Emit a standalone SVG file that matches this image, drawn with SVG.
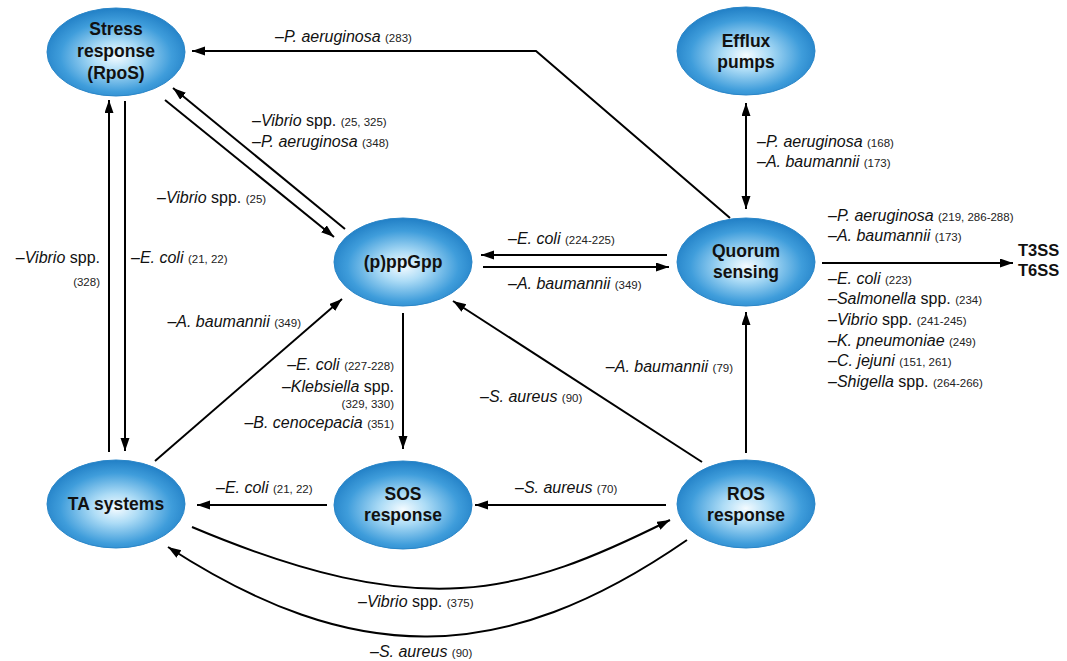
<svg xmlns="http://www.w3.org/2000/svg" width="1067" height="661" viewBox="0 0 1067 661">
<style>
.t{font-family:"Liberation Sans",Arial,sans-serif;font-size:16px;fill:#111}
.i{font-style:italic}
.r{font-size:11.5px;fill:#222}
.n{font-family:"Liberation Sans",Arial,sans-serif;font-size:17.5px;font-weight:bold;fill:#111;text-anchor:middle}
.e{text-anchor:end}
.c{fill:none;stroke:#000;stroke-width:2}
.a{marker-end:url(#ah)}
.node ellipse{fill:url(#g);stroke:#2a86c8;stroke-width:1}
</style>
<defs>
<radialGradient id="g" cx="50%" cy="55%" r="56%">
<stop offset="0" stop-color="#f4fbff"/>
<stop offset="0.3" stop-color="#addcf6"/>
<stop offset="0.72" stop-color="#3f9ddb"/>
<stop offset="1" stop-color="#1f7dc4"/>
</radialGradient>
<marker id="ah" markerUnits="userSpaceOnUse" markerWidth="14" markerHeight="10" refX="13" refY="4.5" orient="auto-start-reverse">
<path d="M0,0 L13,4.5 L0,9 z" fill="#000"/>
</marker>
</defs>
<rect width="1067" height="661" fill="#fff"/>
<g id="connectors">
<polyline class="c a" points="730,218 536,51 192,51"/>
<line class="c a" x1="345" y1="229" x2="173" y2="88"/>
<line class="c a" x1="165" y1="100" x2="334" y2="237"/>
<line class="c a" x1="109" y1="452" x2="109" y2="100"/>
<line class="c a" x1="125" y1="101" x2="125" y2="451"/>
<line class="c a" x1="155" y1="461" x2="342" y2="299"/>
<line class="c a" x1="667" y1="255" x2="481" y2="255"/>
<line class="c a" x1="483" y1="267" x2="669" y2="267"/>
<line class="c a" x1="403" y1="313" x2="403" y2="449"/>
<line class="c a" x1="702" y1="462" x2="453" y2="301"/>
<line class="c a" x1="746" y1="453" x2="746" y2="312"/>
<line class="c a" x1="746" y1="103" x2="746" y2="209" marker-start="url(#ah)"/>
<line class="c a" x1="822" y1="263" x2="1013" y2="263"/>
<line class="c a" x1="327" y1="505" x2="197" y2="505"/>
<line class="c a" x1="666" y1="505" x2="475" y2="505"/>
<path class="c a" d="M192,527 C422,624 520,595 670,520"/>
<path class="c a" d="M687,540 C502,668 353,667 168,547"/>
</g>
<g id="labels">
<text class="t" x="275" y="42">–<tspan class="i">P. aeruginosa</tspan> <tspan class="r">(283)</tspan></text>
<text class="t" x="252" y="126">–<tspan class="i">Vibrio</tspan> spp. <tspan class="r">(25, 325)</tspan></text>
<text class="t" x="252" y="147">–<tspan class="i">P. aeruginosa</tspan> <tspan class="r">(348)</tspan></text>
<text class="t" x="157" y="203">–<tspan class="i">Vibrio</tspan> spp. <tspan class="r">(25)</tspan></text>
<text class="t e" x="100" y="263">–<tspan class="i">Vibrio</tspan> spp.</text>
<text class="t e r" x="100" y="286">(328)</text>
<text class="t" x="131" y="263">–<tspan class="i">E. coli</tspan> <tspan class="r">(21, 22)</tspan></text>
<text class="t e" x="301" y="327">–<tspan class="i">A. baumannii</tspan> <tspan class="r">(349)</tspan></text>
<text class="t" x="508" y="244">–<tspan class="i">E. coli</tspan> <tspan class="r">(224-225)</tspan></text>
<text class="t" x="508" y="289">–<tspan class="i">A. baumannii</tspan> <tspan class="r">(349)</tspan></text>
<text class="t e" x="394" y="370">–<tspan class="i">E. coli</tspan> <tspan class="r">(227-228)</tspan></text>
<text class="t e" x="394" y="392">–<tspan class="i">Klebsiella</tspan> spp.</text>
<text class="t e r" x="394" y="408">(329, 330)</text>
<text class="t e" x="394" y="428">–<tspan class="i">B. cenocepacia</tspan> <tspan class="r">(351)</tspan></text>
<text class="t" x="480" y="402">–<tspan class="i">S. aureus</tspan> <tspan class="r">(90)</tspan></text>
<text class="t e" x="733" y="372">–<tspan class="i">A. baumannii</tspan> <tspan class="r">(79)</tspan></text>
<text class="t" x="757" y="147">–<tspan class="i">P. aeruginosa</tspan> <tspan class="r">(168)</tspan></text>
<text class="t" x="757" y="167">–<tspan class="i">A. baumannii</tspan> <tspan class="r">(173)</tspan></text>
<text class="t" x="828" y="221">–<tspan class="i">P. aeruginosa</tspan> <tspan class="r">(219, 286-288)</tspan></text>
<text class="t" x="828" y="241">–<tspan class="i">A. baumannii</tspan> <tspan class="r">(173)</tspan></text>
<text class="t" x="828" y="284">–<tspan class="i">E. coli</tspan> <tspan class="r">(223)</tspan></text>
<text class="t" x="828" y="304">–<tspan class="i">Salmonella</tspan> spp. <tspan class="r">(234)</tspan></text>
<text class="t" x="828" y="325">–<tspan class="i">Vibrio</tspan> spp. <tspan class="r">(241-245)</tspan></text>
<text class="t" x="828" y="346">–<tspan class="i">K. pneumoniae</tspan> <tspan class="r">(249)</tspan></text>
<text class="t" x="828" y="366">–<tspan class="i">C. jejuni</tspan> <tspan class="r">(151, 261)</tspan></text>
<text class="t" x="828" y="387">–<tspan class="i">Shigella</tspan> spp. <tspan class="r">(264-266)</tspan></text>
<text class="n" x="1018" y="256" style="text-anchor:start;font-size:16.5px">T3SS</text>
<text class="n" x="1018" y="276" style="text-anchor:start;font-size:16.5px">T6SS</text>
<text class="t" x="216" y="493">–<tspan class="i">E. coli</tspan> <tspan class="r">(21, 22)</tspan></text>
<text class="t" x="515" y="493">–<tspan class="i">S. aureus</tspan> <tspan class="r">(70)</tspan></text>
<text class="t" x="358" y="607">–<tspan class="i">Vibrio</tspan> spp. <tspan class="r">(375)</tspan></text>
<text class="t" x="370" y="657">–<tspan class="i">S. aureus</tspan> <tspan class="r">(90)</tspan></text>
</g>
<g id="stress" class="node"><ellipse cx="116" cy="52" rx="69" ry="44"/><text class="n" x="116" y="35">Stress</text><text class="n" x="116" y="57">response</text><text class="n" x="116" y="79">(RpoS)</text></g>
<g id="efflux" class="node"><ellipse cx="746" cy="51" rx="69" ry="44"/><text class="n" x="746" y="47">Efflux</text><text class="n" x="746" y="68">pumps</text></g>
<g id="ppgpp" class="node"><ellipse cx="403" cy="262" rx="69" ry="44"/><text class="n" x="403" y="268">(p)ppGpp</text></g>
<g id="quorum" class="node"><ellipse cx="746" cy="262" rx="69" ry="44"/><text class="n" x="746" y="257">Quorum</text><text class="n" x="746" y="278">sensing</text></g>
<g id="ta" class="node"><ellipse cx="116" cy="504" rx="69" ry="44"/><text class="n" x="116" y="510">TA systems</text></g>
<g id="sos" class="node"><ellipse cx="403" cy="505" rx="69" ry="44"/><text class="n" x="403" y="500">SOS</text><text class="n" x="403" y="521">response</text></g>
<g id="ros" class="node"><ellipse cx="746" cy="504" rx="69" ry="44"/><text class="n" x="746" y="500">ROS</text><text class="n" x="746" y="521">response</text></g>
</svg>
